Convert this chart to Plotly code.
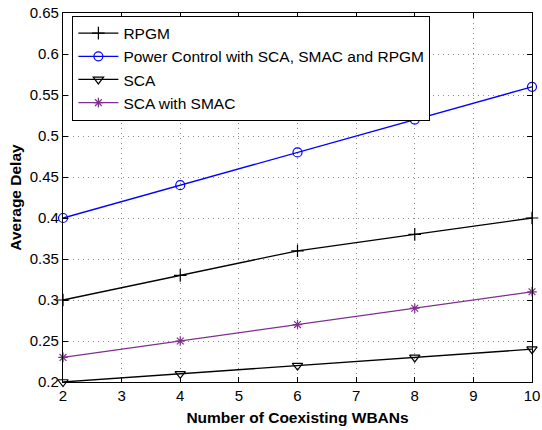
import plotly.graph_objects as go

x_vals = [2, 4, 6, 8, 10]
rpgm = [0.30, 0.33, 0.36, 0.38, 0.40]
power_control = [0.40, 0.44, 0.48, 0.52, 0.56]
sca = [0.20, 0.21, 0.22, 0.23, 0.24]
sca_smac = [0.23, 0.25, 0.27, 0.29, 0.31]

names = ["RPGM", "Power Control with SCA, SMAC and RPGM", "SCA", "SCA with SMAC"]
x_ticks = [2, 3, 4, 5, 6, 7, 8, 9, 10]
y_ticks = [0.2, 0.25, 0.3, 0.35, 0.4, 0.45, 0.5, 0.55, 0.6, 0.65]
y_tick_labels = ["0.2", "0.25", "0.3", "0.35", "0.4", "0.45", "0.5", "0.55", "0.6", "0.65"]

series = [
    (rpgm, "black", "cross-thin-open", 9),
    (power_control, "#0000ff", "circle-open", 9),
    (sca, "black", "triangle-down-open", 9),
    (sca_smac, "#7e2f8e", "asterisk-open", 8),
]

fig = go.Figure()
for (vals, color, sym, size), name in zip(series, names):
    fig.add_trace(go.Scatter(
        x=x_vals, y=vals, name=name, mode="lines+markers",
        line=dict(color=color, width=1.3),
        marker=dict(symbol=sym, size=size, color=color, line=dict(color=color, width=1.2)),
        cliponaxis=False,
    ))

axis_common = dict(
    showline=True, linecolor="black", linewidth=1.3, mirror="ticks",
    ticks="inside", ticklen=5, tickcolor="black",
    showgrid=True, gridcolor="#8a8a8a", griddash="1px,4px", gridwidth=1,
    zeroline=False, automargin=False,
    tickfont=dict(family="Liberation Sans, Arial, sans-serif", size=15, color="black"),
)

fig.update_layout(
    width=542, height=430,
    margin=dict(l=63, r=10, t=13, b=48),
    paper_bgcolor="white", plot_bgcolor="white",
    font=dict(family="Liberation Sans, Arial, sans-serif", color="black"),
    xaxis=dict(range=[2, 10], tickvals=x_ticks,
               title=dict(text="<b>Number of Coexisting WBANs</b>", font=dict(size=15.5), standoff=8),
               **axis_common),
    yaxis=dict(range=[0.2, 0.65], tickvals=y_ticks, ticktext=y_tick_labels,
               title=dict(text="<b>Average Delay</b>", font=dict(size=15.5), standoff=4),
               **axis_common),
    legend=dict(x=0.02, y=0.993, xanchor="left", yanchor="top",
                bgcolor="white", bordercolor="black", borderwidth=1,
                font=dict(size=15.5), tracegroupgap=0, itemwidth=40),
    showlegend=True,
)

fig.write_html("out.html")
